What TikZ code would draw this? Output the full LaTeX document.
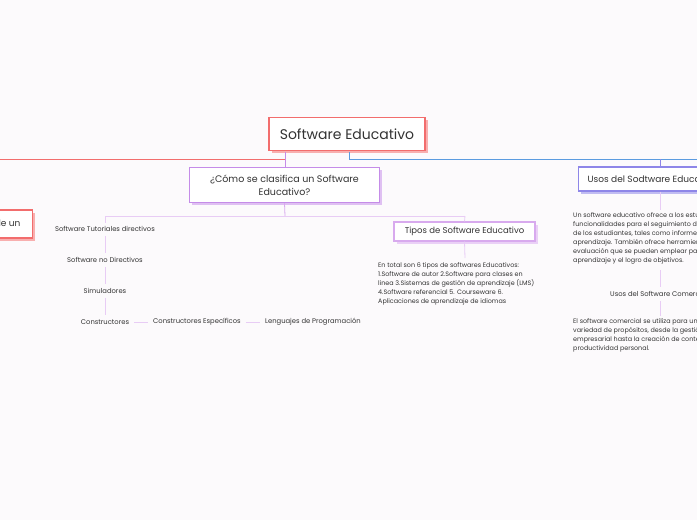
\documentclass[tikz,border=0pt]{standalone}
\usepackage{fontspec}
\setmainfont{Poppins}
\usetikzlibrary{shadows}
\definecolor{cred}{HTML}{F26D6D}
\definecolor{cpur}{HTML}{C58CE8}
\definecolor{clav}{HTML}{8E86E8}
\definecolor{cblue}{HTML}{5B9BE0}
\definecolor{clight}{HTML}{E8CCF5}
\definecolor{ctip}{HTML}{D8AAEE}
\begin{document}
\begin{tikzpicture}[x=1pt,y=-1pt,
 box/.style={draw=#1,line width=1.1pt,fill=white,inner sep=0pt,minimum height=24pt,
   general shadow={shadow xshift=2.5pt,shadow yshift=-2.5pt,fill=#1!55}},
 txt/.style={font=\fontsize{6.8}{10}\selectfont,text=black!80,inner sep=0pt},
 lc/.style={draw=#1,line width=0.8pt}]
\fill[white!98!violet] (0,0) rectangle (697,520);
\useasboundingbox (0,0) rectangle (697,520);
\clip (0,0) rectangle (697,520);
\coordinate (L) at (0,159); \coordinate (R) at (697,159);
\draw[lc=cred] (L) -- (285,159);
\draw[lc=cblue] (349,159) -- (R);
\node[box=cred,minimum width=156pt,minimum height=33pt,font=\fontsize{14}{16}\selectfont,text=black!80] (main) at (347,134) {Software Educativo};
\draw[lc=cpur] (285,152) -- (285,167);
\draw[lc=cblue] (349,152) -- (349,159);
\node[box=cred,inner xsep=12pt,minimum height=28pt,anchor=east,font=\fontsize{9}{11}\selectfont,text=black!80] (left) at (33,224) {Ventajas de un};
\node[box=cpur,minimum width=190pt,minimum height=35pt,align=center,font=\fontsize{9.5}{13}\selectfont,text=black!80] (clas) at (284.5,185) {¿Cómo se clasifica un Software\\Educativo?};
\node[box=clav,minimum width=140pt,minimum height=24pt,anchor=west,inner xsep=9pt,font=\fontsize{9}{11}\selectfont,text=black!80] (usos) at (578,179) {Usos del Sodtware Educativo};
\draw[lc=clav] (660,159) -- (usos.north-|660,0);
\draw[lc=ctip] (clas.south) -- (285,216);
\draw[lc=clight] (105,216) -- (465,216);
\draw[lc=clight] (105,216) -- (105,223);
\node[txt] (t1) at (105,229) {Software Tutoriales directivos};
\node[txt] (t2) at (105,260) {Software no Directivos};
\node[txt] (t3) at (105,291) {Simuladores};
\node[txt] (t4) at (105,322) {Constructores};
\node[txt] (t5) at (197,322) {Constructores Específicos};
\node[txt] (t6) at (313,322) {Lenguajes de Programación};
\draw[lc=clight] ([yshift=-4pt]t1.south) -- ([yshift=4pt]t2.north);
\draw[lc=clight] ([yshift=-4pt]t2.south) -- ([yshift=4pt]t3.north);
\draw[lc=clight] ([yshift=-4pt]t3.south) -- ([yshift=4pt]t4.north);
\draw[lc=clight] ([xshift=5pt]t4.east) -- ([xshift=-5pt]t5.west);
\draw[lc=clight] ([xshift=5pt]t5.east) -- ([xshift=-5pt]t6.west);
\node[box=ctip,minimum width=141pt,minimum height=19pt,font=\fontsize{8.5}{10}\selectfont,text=black!80] (tipos) at (464.5,231.5) {Tipos de Software Educativo};
\draw[lc=clight] (465,216) -- (tipos.north);
\draw[lc=clight] (tipos.south) -- (465,258);
\node[txt,anchor=north west,align=left,font=\fontsize{6.4}{9}\selectfont] (tdesc) at (378,262) {En total son 6 tipos de softwares Educativos:\\1.Software de autor 2.Software para clases en\\linea 3.Sistemas de gestión de aprendizaje (LMS)\\4.Software referencial 5. Courseware 6.\\Aplicaciones de aprendizaje de idiomas};
\draw[lc=clight] (usos.south-|660,0) -- (660,210);
\node[txt,anchor=north west,align=left,font=\fontsize{6.4}{9}\selectfont] (udesc) at (573,212) {Un software educativo ofrece a los estudiantes\\funcionalidades para el seguimiento del progreso\\de los estudiantes, tales como informes de\\aprendizaje. También ofrece herramientas de\\evaluación que se pueden emplear para medir el\\aprendizaje y el logro de objetivos.};
\node[txt,anchor=west] (com) at (610,294) {Usos del Software Comercial};
\draw[lc=clight] (660,270) -- (660,287);
\draw[lc=clight] (660,301) -- (660,316);
\node[txt,anchor=north west,align=left,font=\fontsize{6.4}{9}\selectfont] (cdesc) at (573,318) {El software comercial se utiliza para una\\variedad de propósitos, desde la gestión\\empresarial hasta la creación de contenido y\\productividad personal.};
\end{tikzpicture}
\end{document}
